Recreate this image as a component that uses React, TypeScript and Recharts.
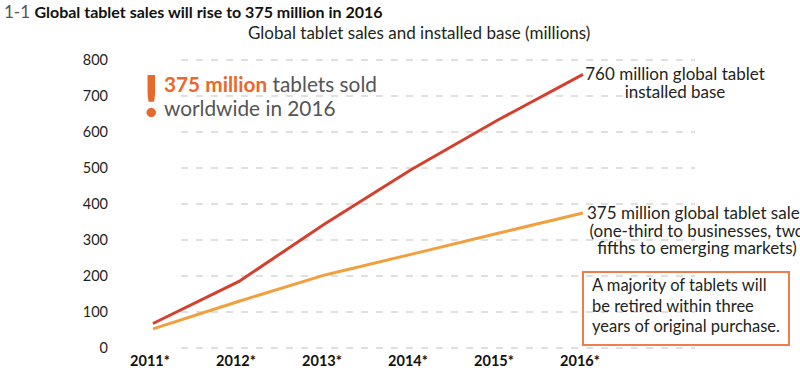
import React from "react";
import { LineChart, Line, XAxis, YAxis, CartesianGrid } from "recharts";

const years = ["2011*", "2012*", "2013*", "2014*", "2015*", "2016*"];
const installedBase = [68, 185, 345, 495, 632, 760];
const unitSales = [53, 130, 203, 260, 318, 375];
const yTicks = [0, 100, 200, 300, 400, 500, 600, 700, 800];

const baseNote = ["760 million global tablet", "installed base"];
const salesNote = [
  "375 million global tablet sales",
  "(one-third to businesses, two",
  "fifths to emerging markets)",
];
const boxNote = [
  "A majority of tablets will",
  "be retired within three",
  "years of original purchase.",
];

const RED = "#d3402d";
const ORANGE = "#f0a03e";
const ACCENT = "#e9682b";
const INK = "#231f20";
const FONT = "Lato, 'Open Sans', sans-serif";

const data = years.map((year, i) => ({
  year,
  base: installedBase[i],
  sales: unitSales[i],
}));

const last = years.length - 1;

// text that hangs off the last point of a line
function endNote(lines: string[], dx: number, dy: number, gap: number) {
  return (p: any) => {
    if (p.index !== last) return <g key={`n-${p.index}`} />;
    return (
      <text
        key={`n-${p.index}`}
        x={p.x + dx}
        y={p.y + dy}
        textAnchor="middle"
        fontSize={17}
        fill={INK}
        fontFamily={FONT}
      >
        {lines.map((t, i) => (
          <tspan key={i} x={p.x + dx} dy={i === 0 ? 0 : gap}>
            {t}
          </tspan>
        ))}
      </text>
    );
  };
}

const gridLine = (p: any) => (
  <line
    key={p.key ?? `g-${p.y1}`}
    x1={p.x1 + 28}
    x2={p.x2}
    y1={p.y1}
    y2={p.y2}
    stroke="#d6d6d6"
    strokeWidth={1.5}
    strokeDasharray="7 8"
  />
);

export default function App() {
  return (
    <div
      style={{
        position: "absolute",
        left: 0,
        top: 0,
        width: 800,
        height: 370,
        background: "#fff",
        fontFamily: FONT,
        overflow: "hidden",
      }}
    >
      <div style={{ position: "absolute", left: 4, top: 1, whiteSpace: "nowrap" }}>
        <span style={{ fontSize: 17, color: "#555" }}>1-1 </span>
        <span style={{ fontSize: 16, fontWeight: 700, color: "#111" }}>
          Global tablet sales will rise to 375 million in 2016
        </span>
      </div>
      <div
        style={{
          position: "absolute",
          left: 248,
          top: 22,
          fontSize: 17,
          color: INK,
          whiteSpace: "nowrap",
        }}
      >
        Global tablet sales and installed base (millions)
      </div>

      <LineChart
        width={800}
        height={370}
        data={data}
        margin={{ top: 60, right: 105, bottom: 0, left: 0 }}
        style={{ fontFamily: FONT }}
      >
        <CartesianGrid vertical={false} horizontal={gridLine} />
        <XAxis
          dataKey="year"
          padding={{ left: 0, right: 112 }}
          axisLine={false}
          tickLine={false}
          tickSize={0}
          tickMargin={8}
          height={22}
          interval={0}
          tick={{ fontSize: 14.5, fontWeight: 700, fill: "#111", dx: -3 }}
        />
        <YAxis
          domain={[0, 800]}
          ticks={yTicks}
          width={153}
          axisLine={false}
          tickLine={false}
          tickSize={0}
          tickMargin={45}
          interval={0}
          tick={{ fontSize: 14.5, fill: INK }}
        />
        <Line
          dataKey="sales"
          stroke={ORANGE}
          strokeWidth={3}
          dot={false}
          isAnimationActive={false}
          label={endNote(salesNote, 114, 6, 17.5)}
        />
        <Line
          dataKey="base"
          stroke={RED}
          strokeWidth={3}
          dot={false}
          isAnimationActive={false}
          label={endNote(baseNote, 92, 6, 18)}
        />
      </LineChart>

      <div
        style={{
          position: "absolute",
          left: 143,
          top: 65,
          fontSize: 58,
          fontWeight: 900,
          color: ACCENT,
          lineHeight: "60px",
        }}
      >
        !
      </div>
      <div
        style={{
          position: "absolute",
          left: 164,
          top: 72,
          fontSize: 20.8,
          lineHeight: "24px",
          color: "#555",
          whiteSpace: "nowrap",
        }}
      >
        <span style={{ color: ACCENT, fontWeight: 700 }}>375 million</span> tablets sold
        <br />
        worldwide in 2016
      </div>

      <div
        style={{
          position: "absolute",
          left: 582,
          top: 271,
          width: 204,
          height: 69,
          border: "2px solid #ee7d4d",
          boxSizing: "content-box",
          padding: "2px 0 0 0",
          fontSize: 16.5,
          lineHeight: "20.5px",
          color: INK,
          whiteSpace: "nowrap",
        }}
      >
        {boxNote.map((t, i) => (
          <div key={i} style={{ paddingLeft: 8 }}>
            {t}
          </div>
        ))}
      </div>
    </div>
  );
}
